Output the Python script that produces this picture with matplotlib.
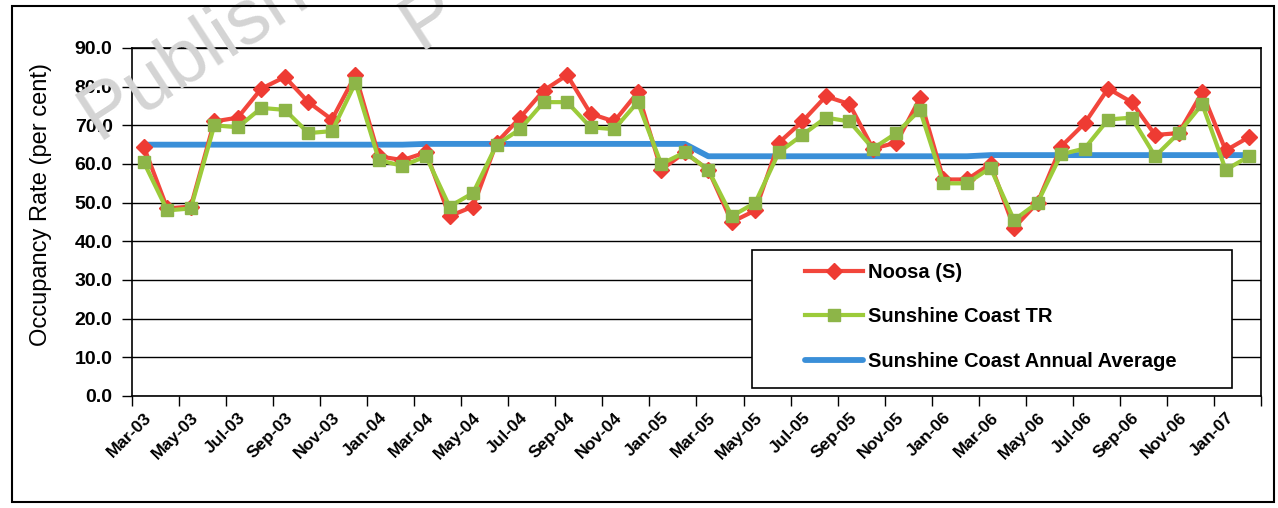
import numpy as np
import matplotlib
matplotlib.use("Agg")
import matplotlib.pyplot as plt
from matplotlib.patches import Rectangle

plt.rcParams['font.family'] = ['Liberation Sans', 'DejaVu Sans']

# monthly occupancy, Mar-03 .. Feb-07
months = ['Mar-03', 'Apr-03', 'May-03', 'Jun-03', 'Jul-03', 'Aug-03', 'Sep-03', 'Oct-03',
          'Nov-03', 'Dec-03', 'Jan-04', 'Feb-04', 'Mar-04', 'Apr-04', 'May-04', 'Jun-04',
          'Jul-04', 'Aug-04', 'Sep-04', 'Oct-04', 'Nov-04', 'Dec-04', 'Jan-05', 'Feb-05',
          'Mar-05', 'Apr-05', 'May-05', 'Jun-05', 'Jul-05', 'Aug-05', 'Sep-05', 'Oct-05',
          'Nov-05', 'Dec-05', 'Jan-06', 'Feb-06', 'Mar-06', 'Apr-06', 'May-06', 'Jun-06',
          'Jul-06', 'Aug-06', 'Sep-06', 'Oct-06', 'Nov-06', 'Dec-06', 'Jan-07', 'Feb-07']

noosa = [64.5, 48.5, 49.0, 71.0, 72.0, 79.5, 82.5, 76.0, 71.5, 83.0, 62.0, 61.0,
         63.0, 46.5, 49.0, 65.5, 72.0, 79.0, 83.0, 73.0, 71.0, 78.5, 58.5, 63.0,
         58.5, 45.0, 48.0, 65.5, 71.0, 77.5, 75.5, 64.0, 65.5, 77.0, 56.0, 56.0,
         60.0, 43.5, 50.0, 64.5, 70.5, 79.5, 76.0, 67.5, 68.0, 78.5, 63.5, 67.0]

sunshine_tr = [60.5, 48.0, 48.5, 70.0, 69.5, 74.5, 74.0, 68.0, 68.5, 81.0, 61.0, 59.5,
               62.0, 49.0, 52.5, 65.0, 69.0, 76.0, 76.0, 69.5, 69.0, 76.0, 60.0, 63.0,
               58.5, 46.5, 50.0, 63.0, 67.5, 72.0, 71.0, 64.0, 68.0, 74.0, 55.0, 55.0,
               59.0, 45.5, 50.0, 62.5, 64.0, 71.5, 72.0, 62.0, 68.0, 75.5, 58.5, 62.0]

# one value per 12-month year
annual_avg = [65.0] * 12 + [65.2] * 12 + [62.0] * 12 + [62.3] * 12

x = np.arange(len(months))

W, H = 1278, 508
fig = plt.figure(figsize=(W / 100, H / 100), dpi=100)
ax = fig.add_axes([132 / W, 1 - 396 / H, (1261 - 132) / W, (396 - 48) / H])
ax.set_facecolor('none')

ax.plot(x, annual_avg, color='#3A8FD8', lw=4.2, solid_capstyle='round', zorder=2,
        label='Sunshine Coast Annual Average')
ax.plot(x, noosa, color='#F2463C', lw=3, marker='D', markersize=8.5,
        markerfacecolor='#EE3B33', markeredgecolor='#EE3B33', zorder=3, label='Noosa (S)')
ax.plot(x, sunshine_tr, color='#9CCB3A', lw=3, marker='s', markersize=9,
        markerfacecolor='#8DB548', markeredgecolor='#8DB548', zorder=4,
        label='Sunshine Coast TR')

ax.set_xlim(-0.5, len(months) - 0.5)
ax.set_ylim(0, 90)
ax.set_yticks(np.arange(0, 91, 10))
ax.set_yticklabels([f'{v:.1f}' for v in np.arange(0, 91, 10)],
                   fontsize=14, fontweight='bold')
ax.yaxis.grid(True, color='black', lw=1)
ax.set_axisbelow(True)

# tick marks on category boundaries, labels on every second month
ax.set_xticks(np.arange(-0.5, len(months), 2))
ax.set_xticklabels([])
ax.set_xticks(x[::2], minor=True)
ax.set_xticklabels(months[::2], minor=True, rotation=45, ha='right',
                   rotation_mode='anchor', fontsize=12.5, fontweight='bold')
ax.tick_params(axis='x', which='minor', length=0, pad=10)
ax.tick_params(axis='both', which='major', length=7, width=1, direction='out')
ax.tick_params(axis='y', pad=7)

for s in ax.spines.values():
    s.set_linewidth(1.2)
    s.set_color('black')

ax.set_ylabel('Occupancy Rate (per cent)', fontsize=17)
ax.yaxis.set_label_coords(-(132 - 52) / 1129, (396 - 205) / 348)

# legend box drawn separately so its side padding can be wider than top/bottom
box_l, box_r, box_t, box_b = 752, 1232, 250, 388
fig.patches.append(Rectangle((box_l / W, 1 - box_b / H), (box_r - box_l) / W,
                             (box_b - box_t) / H, transform=fig.transFigure,
                             facecolor='white', edgecolor='black', lw=1.2, zorder=5))
handles, labels = ax.get_legend_handles_labels()
order = [1, 2, 0]
leg = fig.legend([handles[i] for i in order], [labels[i] for i in order],
                 loc='center left', bbox_to_anchor=(805 / W, 1 - 317 / H),
                 frameon=False, prop={'weight': 'bold', 'size': 14.5},
                 handlelength=2.9, labelspacing=1.28, handletextpad=0.25,
                 borderpad=0, borderaxespad=0)
leg.set_zorder(6)

# faint stamp across the top left
stamp = dict(fontsize=56, color='#d4d4d4', rotation=33, rotation_mode='anchor',
             ha='left', va='baseline', zorder=0)
fig.text(98 / W, 1 - 140 / H, 'Publishe', **stamp)
fig.text(420 / W, 1 - 50 / H, 'P', **stamp)

fig.patches.append(Rectangle((12 / W, 6 / H), (1274 - 12) / W, (502 - 6) / H,
                             transform=fig.transFigure, fill=False,
                             edgecolor='black', lw=1.5))

fig.savefig('out.png', dpi=100)
